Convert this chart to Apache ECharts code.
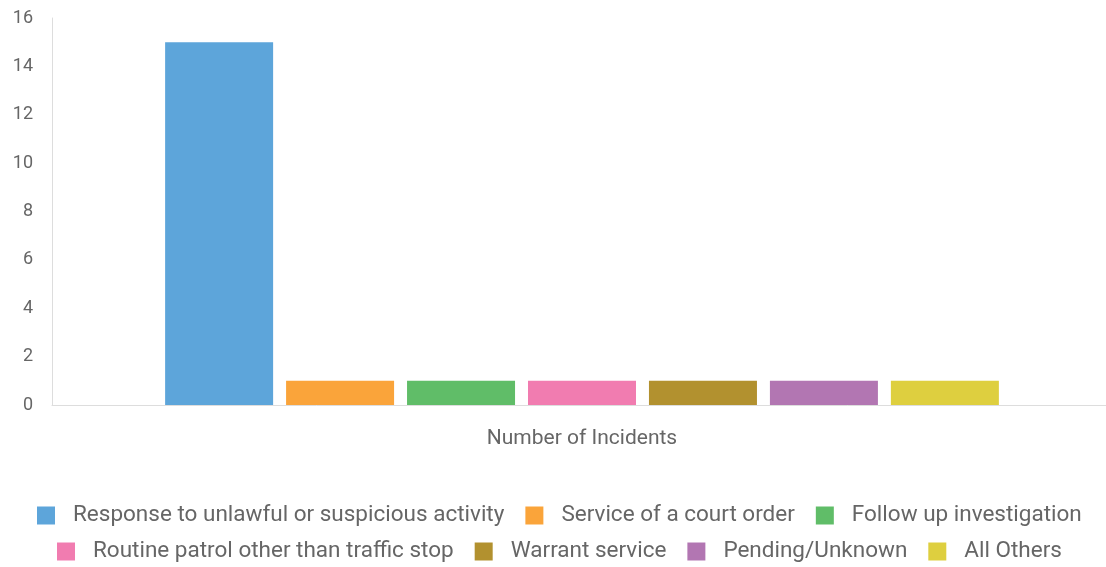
<!DOCTYPE html>
<html><head><meta charset="utf-8">
<script src="https://cdn.jsdelivr.net/npm/echarts@6/dist/echarts.min.js"></script>
<style>html,body{margin:0;padding:0;background:#fff;overflow:hidden}#c{width:1112px;height:567px}</style>
</head><body><div id="c"></div>
<script>
const categories = ["Number of Incidents"];
const seriesNames = ["Response to unlawful or suspicious activity","Service of a court order","Follow up investigation","Routine patrol other than traffic stop","Warrant service","Pending/Unknown","All Others"];
const seriesValues = [15,1,1,1,1,1,1];
const colors = ["#5DA5DA","#FAA43A","#60BD68","#F17CB0","#B2912F","#B276B2","#DECF3F"];
const yTicks = {min:0,max:16,interval:2};

const font = "Roboto";
const chart = echarts.init(document.getElementById('c'));
const legendText = {color:'#666', fontSize:22.5, fontFamily:font, padding:[0,0,0,13]};
chart.setOption({
  animation:false,
  color: colors,
  grid:{left:52,right:0,top:18,bottom:162},
  xAxis:{type:'category',data:categories,
    axisLine:{lineStyle:{color:'#ddd',width:1}},axisTick:{show:false},
    axisLabel:{color:'#666',fontSize:21,fontFamily:font,margin:23}},
  yAxis:{type:'value',min:yTicks.min,max:yTicks.max,interval:yTicks.interval,
    axisLine:{show:true,lineStyle:{color:'#ddd'}},axisTick:{show:false},splitLine:{show:false},
    axisLabel:{color:'#666',fontSize:18,fontFamily:font,margin:19}},
  legend:[
    {data:seriesNames.slice(0,3),left:32,top:499,itemWidth:18,itemHeight:18,itemGap:21,icon:'rect',textStyle:legendText},
    {data:seriesNames.slice(3),left:52,top:535,itemWidth:18,itemHeight:18,itemGap:21,icon:'rect',textStyle:legendText}
  ],
  series: seriesNames.map((n,i)=>({name:n,type:'bar',barWidth:108,barGap:'12%',
    data:[seriesValues[i]]}))
});
</script></body></html>
